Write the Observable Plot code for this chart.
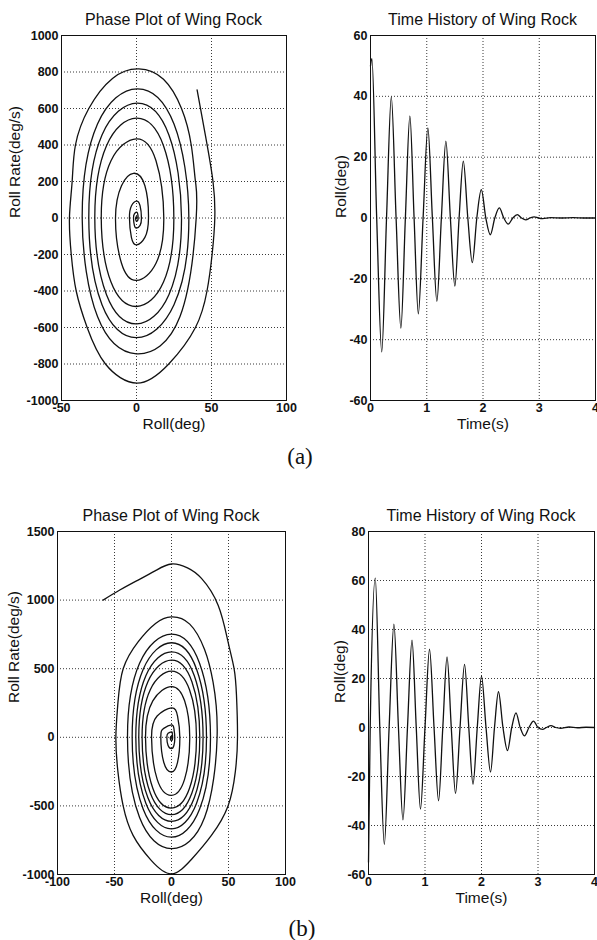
<!DOCTYPE html>
<html><head><meta charset="utf-8">
<script src="https://cdn.jsdelivr.net/npm/d3@7"></script>
<script src="https://cdn.jsdelivr.net/npm/@observablehq/plot@0.6"></script>
<style>
body{margin:0;background:#fff;overflow:hidden}
#root{position:relative;width:597px;height:940px;background:#fff;font-family:"Liberation Sans",Arial,sans-serif}
.title{position:absolute;font-size:16px;color:#111;white-space:nowrap;transform:translate(-50%,-50%);line-height:1}
.tag{position:absolute;font-family:"Liberation Serif","Times New Roman",serif;font-size:23px;color:#111;transform:translate(-50%,-50%);line-height:1}
#root svg{position:absolute;overflow:visible}
</style></head><body><div id="root"></div>
<script>
// ---- Panel (a) phase plot: roll (deg) vs roll rate (deg/s)
const phaseARoll = [40.4,46,51,52.2,50.4,47,39.3,21.5,0.4,-20.7,-32.9,-40.2,-43.5,-44.7,-42.9,-40.7,-31.8,-16,1.5,18,30,36.5,39.3,39.8,
  29,0,-26,-36.2,-26,0.5,25,34.9,25,0,-23,-31.8,-23,0.5,21.6,30,21.6,0,-20,-27.8,-20,0,18,24.9,18,0,-17,-23.5,-17,0,13,18.2,
  13,0,-10,-14,-10,-2,5.6,8,5.6,0,-3.4,-4.7,-3.4,0,2.4,3.3,2.4,0,-1.4,-2,-1.4,0,0.8,1.1,0.8,0,-0.4,-0.6,0,0.2];
const phaseARate = [702,450,200,0,-200,-400,-600,-800,-905,-800,-600,-400,-200,0,200,400,600,765,817,760,600,400,200,0,
  -540,-744,-540,0,515,708,515,0,-475,-656,-475,0,455,629,455,0,-420,-580,-420,0,396,547,396,0,-351,-485,-351,0,314,434,314,0,
  -248,-342,-248,0,177,245,177,0,-106,-147,-106,0,66,92,66,0,-40,-55,-40,0,23,32,23,0,-13,-18,-12,0,8,0];

// ---- Panel (a) time history
const timeAT = [0,0.025,0.11,0.2,0.285,0.37,0.455,0.54,0.62,0.70,0.775,0.85,0.935,1.02,1.10,1.18,1.26,1.34,1.42,1.50,
  1.575,1.65,1.73,1.81,1.89,1.97,2.05,2.13,2.21,2.29,2.37,2.45,2.53,2.61,2.685,2.76,2.835,2.91,2.985,3.06,3.2,3.4,3.6,3.8,4.0];
const timeARoll = [50,52.4,0,-44,0,39.8,0,-36.2,0,33.6,0,-31.5,0,29.6,0,-27.4,0,25.3,0,-22.4,
  0,18.7,0,-14.7,0,9.3,0,-5.5,0,3.3,0,-2,0,1.1,0,-0.6,0,0.4,0,-0.2,0.1,0,0.1,0,0];

// ---- Panel (b) phase plot
const phaseBRoll = [-60,-45,-29.3,-14,0,14,26.3,40.9,49.6,54.9,57,57.9,56,49.6,35,18,0,-18,-33.7,-42.4,-47,-48.8,-47,-42.4,-29.3,-14,0,16,29,36.5,40,
  29,0,-28,-38.6,-28,0,24.6,34.2,24.6,0,-24.8,-34.5,-24.8,0,22,30.7,22,0,-22.5,-31.3,-22.5,0,20,27.7,20,0,-20.7,-28.7,-20.7,0,17.9,24.8,
  17.9,0,-18.6,-25.8,-18.6,0,15.8,21.9,15.8,0,-16.4,-22.8,-16.4,0,11.5,16,11.5,0,-12.6,-17.5,-12.6,0,5.3,7.3,5.3,0,-6.8,-9.4,-6.8,0,2.1,2.9,
  2.1,0,-3,-4.1,-3,0,0.7,1,0.7,0,-0.7,-1,0,0.2];
const phaseBRate = [1000,1075,1146,1215,1263,1235,1158,963,696,501,307,0,-250,-500,-715,-885,-995,-895,-715,-500,-250,0,250,500,696,830,878,825,640,400,0,
  -585,-812,-585,0,540,752,540,0,-524,-728,-524,0,496,689,496,0,-480,-667,-480,0,449,623,449,0,-441,-613,-441,0,405,562,405,0,
  -406,-564,-406,0,347,482,347,0,-372,-516,-372,0,266,370,266,0,-305,-423,-305,0,155,215,155,0,-182,-253,-182,0,65,90,65,0,
  -60,-83,-60,0,29,40,29,0,-18,-25,-18,0,8,0];

// ---- Panel (b) time history
const timeBT = [0,0.03,0.12,0.2,0.28,0.365,0.45,0.53,0.61,0.69,0.77,0.845,0.92,1.0,1.08,1.16,1.24,1.315,1.39,1.465,
  1.54,1.62,1.70,1.775,1.85,1.925,2.0,2.08,2.16,2.23,2.30,2.38,2.46,2.535,2.61,2.685,2.76,2.84,2.92,3.0,
  3.08,3.15,3.23,3.31,3.4,3.55,3.7,3.85,4.0];
const timeBRoll = [-55,0,61,0,-47.7,0,42.2,0,-37.7,0,35.7,0,-33.3,0,32,0,-29.9,0,28.8,0,
  -26.9,0,25.8,0,-23.1,0,21,0,-18.2,0,14.6,0,-9.4,0,6,0,-3.4,0,2.6,0,
  -0.8,0,0.8,0,-0.3,0.2,-0.1,0.1,0];

// ---- Tick values
const ticksPhaseAX = [-50,0,50,100];
const ticksPhaseAY = [-1000,-800,-600,-400,-200,0,200,400,600,800,1000];
const ticksTimeX = [0,1,2,3,4];
const ticksTimeAY = [-60,-40,-20,0,20,40,60];
const ticksPhaseBX = [-100,-50,0,50,100];
const ticksPhaseBY = [-1000,-500,0,500,1000,1500];
const ticksTimeBY = [-60,-40,-20,0,20,40,60,80];

const titlePhase = "Phase Plot of Wing Rock";
const titleTime = "Time History of Wing Rock";

const zip = (xs, ys) => xs.map((x, i) => ({x, y: ys[i]}));
const root = document.getElementById("root");
const FONT = "Liberation Sans, Arial, Helvetica, sans-serif";

function panel(o) {
  const chart = Plot.plot({
    width: o.width, height: o.height,
    marginLeft: o.ml, marginRight: o.mr, marginTop: o.mt, marginBottom: o.mb,
    style: {fontFamily: FONT, background: "transparent", color: "#111", overflow: "visible"},
    x: {domain: o.xDomain},
    y: {domain: o.yDomain},
    marks: [
      Plot.gridX({ticks: o.xTicks, stroke: "#222", strokeOpacity: 1, strokeWidth: 0.9, strokeDasharray: "1,2"}),
      Plot.gridY({ticks: o.yTicks, stroke: "#222", strokeOpacity: 1, strokeWidth: 0.9, strokeDasharray: "1,2"}),
      Plot.frame({stroke: "#111", strokeWidth: 1}),
      Plot.line(o.data, {x: "x", y: "y", curve: o.curve, stroke: "#111", strokeWidth: 1.3}),
      Plot.axisX({ticks: o.xTicks, tickFormat: d => String(d), tickSize: 0, tickPadding: 3, label: null, fontSize: 12.5, fontWeight: "bold"}),
      Plot.axisY({ticks: o.yTicks, tickFormat: d => String(d), tickSize: 0, tickPadding: 3, label: null, fontSize: 12.5, fontWeight: "bold"}),
      Plot.text([o.xLabel], {text: d => d, frameAnchor: "bottom", dy: 28.5, fontSize: 15.5}),
      Plot.text([o.yLabel], {text: d => d, frameAnchor: "left", dx: o.yLabelDx, rotate: -90, fontSize: 15.5})
    ]
  });
  chart.style.left = o.left + "px";
  chart.style.top = o.top + "px";
  root.appendChild(chart);
}

function addText(cls, txt, x, y) {
  const d = document.createElement("div");
  d.className = cls; d.textContent = txt;
  d.style.left = x + "px"; d.style.top = y + "px";
  root.appendChild(d);
}

panel({left: 0, top: 30, width: 297, height: 412, ml: 61, mr: 11, mt: 5, mb: 42,
  xDomain: [-50, 100], yDomain: [-1000, 1000], xTicks: ticksPhaseAX, yTicks: ticksPhaseAY,
  xLabel: "Roll(deg)", yLabel: "Roll Rate(deg/s)", yLabelDx: -46,
  data: zip(phaseARoll, phaseARate), curve: "natural"});
panel({left: 297, top: 30, width: 300, height: 412, ml: 73, mr: 2, mt: 5, mb: 42,
  xDomain: [0, 4], yDomain: [-60, 60], xTicks: ticksTimeX, yTicks: ticksTimeAY,
  xLabel: "Time(s)", yLabel: "Roll(deg)", yLabelDx: -29,
  data: zip(timeAT, timeARoll), curve: "monotone-x"});
panel({left: 0, top: 526, width: 297, height: 390, ml: 57, mr: 12, mt: 5, mb: 42,
  xDomain: [-100, 100], yDomain: [-1000, 1500], xTicks: ticksPhaseBX, yTicks: ticksPhaseBY,
  xLabel: "Roll(deg)", yLabel: "Roll Rate(deg/s)", yLabelDx: -43,
  data: zip(phaseBRoll, phaseBRate), curve: "natural"});
panel({left: 297, top: 526, width: 300, height: 390, ml: 71, mr: 3, mt: 5, mb: 42,
  xDomain: [0, 4], yDomain: [-60, 80], xTicks: ticksTimeX, yTicks: ticksTimeBY,
  xLabel: "Time(s)", yLabel: "Roll(deg)", yLabelDx: -28,
  data: zip(timeBT, timeBRoll), curve: "monotone-x"});

addText("title", titlePhase, 173.5, 20);
addText("title", titleTime, 482.5, 20);
addText("title", titlePhase, 171, 516);
addText("title", titleTime, 481, 516);
addText("tag", "(a)", 300, 456);
addText("tag", "(b)", 302, 928);
</script>
</body></html>
